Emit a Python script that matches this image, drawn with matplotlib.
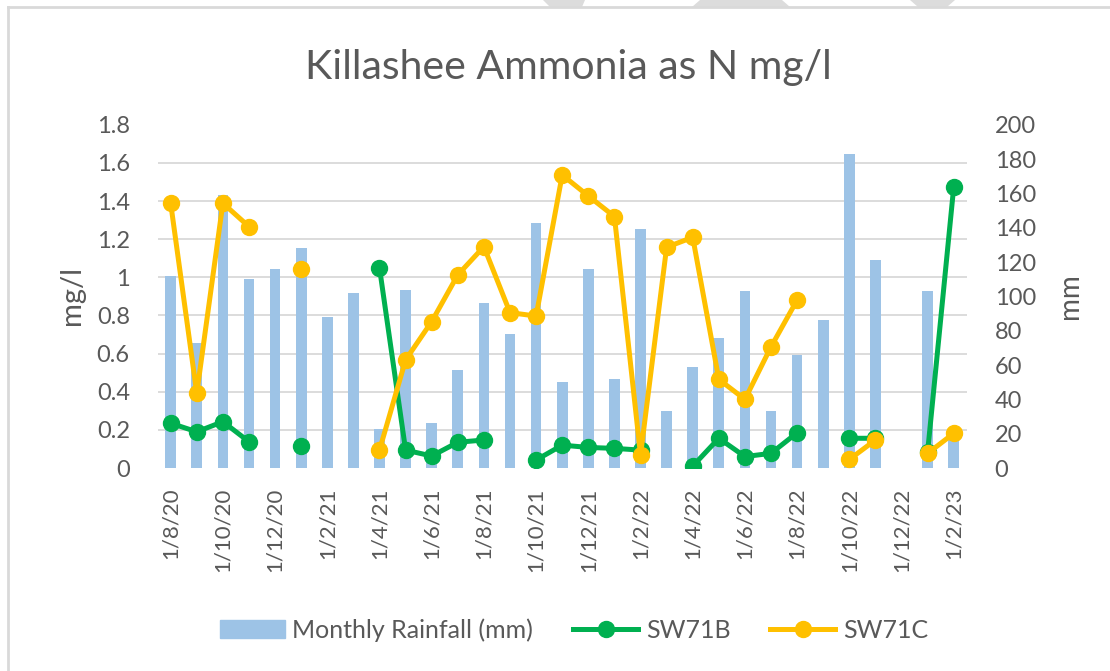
import numpy as np
import matplotlib.pyplot as plt
from matplotlib.patches import Polygon
from matplotlib.lines import Line2D

plt.rcParams['font.family'] = ['Lato', 'DejaVu Sans']

# monthly categories, Aug 2020 .. Feb 2023
months = ['1/8/20', '1/9/20', '1/10/20', '1/11/20', '1/12/20', '1/1/21', '1/2/21', '1/3/21',
          '1/4/21', '1/5/21', '1/6/21', '1/7/21', '1/8/21', '1/9/21', '1/10/21', '1/11/21',
          '1/12/21', '1/1/22', '1/2/22', '1/3/22', '1/4/22', '1/5/22', '1/6/22', '1/7/22',
          '1/8/22', '1/9/22', '1/10/22', '1/11/22', '1/12/22', '1/1/23', '1/2/23']

nan = np.nan
rainfall = [112, 73, 159, 110, 116, 128, 88, 102,
            23, 104, 26, 57, 96, 78, 143, 50,
            116, 52, 139, 33, 59, 76, 103, 33,
            66, 86, 183, 121, nan, 103, 21]

sw71b = [0.235, 0.19, 0.243, 0.138, nan, 0.115, nan, nan,
         1.05, 0.094, 0.063, 0.135, 0.147, nan, 0.042, 0.12,
         0.108, 0.103, 0.094, nan, 0.01, 0.156, 0.06, 0.077,
         0.185, nan, 0.156, 0.156, nan, 0.086, 1.476]

sw71c = [1.389, 0.392, 1.389, 1.266, nan, 1.042, nan, nan,
         0.094, 0.567, 0.768, 1.013, 1.161, 0.815, 0.797, 1.537,
         1.427, 1.319, 0.068, 1.158, 1.21, 0.465, 0.36, 0.636,
         0.881, nan, 0.045, 0.147, nan, 0.077, 0.182]

left_ticks = [0, 0.2, 0.4, 0.6, 0.8, 1, 1.2, 1.4, 1.6, 1.8]
left_labels = ['0', '0.2', '0.4', '0.6', '0.8', '1', '1.2', '1.4', '1.6', '1.8']
right_ticks = list(range(0, 201, 20))

text_col = '#595959'
grid_col = '#D9D9D9'
bar_col = '#9DC3E6'
green = '#00B050'
yellow = '#FFC000'

x = np.arange(len(months))

fig = plt.figure(figsize=(11.1, 6.71), dpi=100)
ax = fig.add_axes([0.142, 0.3025, 0.729, 0.5115])
ax2 = ax.twinx()
ax.set_zorder(2)
ax2.set_zorder(1)
ax.patch.set_visible(False)

# rainfall bars on the secondary axis
ax2.bar(x, rainfall, width=0.41, color=bar_col, zorder=2)
ax2.set_ylim(0, 200)
ax2.set_yticks(right_ticks)
# gridlines follow the left axis ticks
ax2.set_yticks([v * 200 / 1.8 for v in left_ticks], minor=True)
ax2.grid(which='minor', axis='y', color=grid_col, linewidth=1.3, zorder=0)
ax2.set_axisbelow(True)

ax.plot(x, sw71b, color=green, lw=3.6, marker='o', ms=11.5, solid_capstyle='round')
ax.plot(x, sw71c, color=yellow, lw=3.6, marker='o', ms=11.5, solid_capstyle='round')
ax.set_ylim(0, 1.8)
ax.set_xlim(-0.5, len(months) - 0.5)
ax.set_yticks(left_ticks)
ax.set_yticklabels(left_labels)
ax.set_xticks(x[::2])
ax.set_xticklabels(months[::2], rotation=90)

for a in (ax, ax2):
    for s in a.spines.values():
        s.set_visible(False)
ax.tick_params(axis='y', length=0, pad=20, labelsize=17, labelcolor=text_col)
ax2.tick_params(axis='y', which='both', length=0, pad=20, labelsize=17, labelcolor=text_col)
ax.tick_params(axis='x', length=0, pad=14, labelsize=16, labelcolor=text_col)

fig.text(0.065, 0.559, 'mg/l', rotation=90, ha='center', va='center', fontsize=21, color=text_col)
fig.text(0.964, 0.559, 'mm', rotation=90, ha='center', va='center', fontsize=20, color=text_col)
fig.text(0.512, 0.9, 'Killashee Ammonia as N mg/l', ha='center', va='center', fontsize=29.5, color=text_col)

handles = [plt.Rectangle((0, 0), 1, 1, color=bar_col),
           Line2D([], [], color=green, lw=3.6, marker='o', ms=11.5),
           Line2D([], [], color=yellow, lw=3.6, marker='o', ms=11.5)]
fig.legend(handles, ['Monthly Rainfall (mm)', 'SW71B', 'SW71C'], loc='center',
           bbox_to_anchor=(0.517, 0.061), ncol=3, frameon=False, fontsize=18,
           labelcolor=text_col, handlelength=2.6, handletextpad=0.3, columnspacing=1.6)

# chart frame and the grey shapes at the top edge
W, H = 1110, 671
def px(pts):
    return [(a / W, 1 - b / H) for a, b in pts]
for shape in ([(543, 0), (585, 0), (582, 7), (550, 7)],
              [(700, 0), (782, 0), (790, 7), (692, 7)],
              [(910, 0), (955, 0), (947, 7), (918, 7)]):
    fig.add_artist(Polygon(px(shape), closed=True, transform=fig.transFigure,
                           facecolor='#DCDCDC', edgecolor='none'))
fig.add_artist(Line2D([8 / W, 8 / W], [0, 1 - 7 / H], color=grid_col, lw=2))
fig.add_artist(Line2D([8 / W, 1], [1 - 7 / H, 1 - 7 / H], color=grid_col, lw=2))

fig.savefig('out.png', dpi=100)
